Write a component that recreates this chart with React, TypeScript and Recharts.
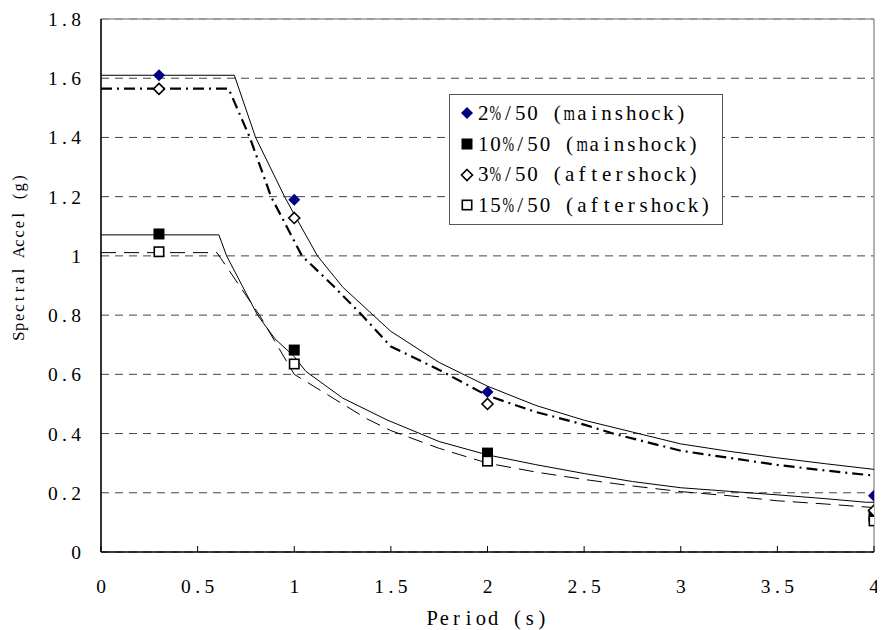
import React from 'react';
import {
  ComposedChart,
  Line,
  Scatter,
  XAxis,
  YAxis,
  CartesianGrid,
  ReferenceLine,
  Legend,
  Label,
} from 'recharts';

// ---- tick labels ----
const X_TICKS = [0, 0.5, 1, 1.5, 2, 2.5, 3, 3.5, 4];
const Y_TICKS = [0, 0.2, 0.4, 0.6, 0.8, 1, 1.2, 1.4, 1.6, 1.8];

// ---- design spectra (curves) ----
// 2%/50 mainshock (solid, upper)
const CURVE_2_T = [0, 0.69, 0.8, 0.95, 1.0, 1.12, 1.25, 1.5, 1.75, 2.0, 2.25, 2.5, 2.75, 3.0, 3.25, 3.5, 3.75, 4.0];
const CURVE_2_V = [1.61, 1.61, 1.4, 1.2, 1.14, 1.0, 0.895, 0.745, 0.64, 0.56, 0.495, 0.445, 0.405, 0.365, 0.34, 0.318, 0.298, 0.279];

// 3%/50 aftershock (dash-dot)
const CURVE_3_T = [0, 0.66, 0.77, 0.88, 1.0, 1.04, 1.2, 1.35, 1.5, 1.75, 2.0, 2.25, 2.5, 2.65, 3.0, 3.25, 3.5, 3.75, 4.0];
const CURVE_3_V = [1.565, 1.565, 1.4, 1.2, 1.05, 1.0, 0.9, 0.8, 0.694, 0.615, 0.528, 0.473, 0.43, 0.4, 0.342, 0.318, 0.294, 0.275, 0.258];

// 10%/50 mainshock (solid, lower)
const CURVE_10_T = [0, 0.61, 0.65, 0.81, 0.9, 1.0, 1.06, 1.25, 1.48, 1.75, 2.0, 2.25, 2.5, 2.75, 3.0, 3.25, 3.5, 3.75, 3.96, 4.0];
const CURVE_10_V = [1.071, 1.071, 1.0, 0.8, 0.72, 0.66, 0.61, 0.52, 0.446, 0.373, 0.328, 0.295, 0.265, 0.238, 0.217, 0.205, 0.193, 0.18, 0.168, 0.168];

// 15%/50 aftershock (long dash)
const CURVE_15_T = [0, 0.6, 0.82, 1.0, 1.1, 1.375, 1.5, 1.75, 2.0, 2.25, 2.5, 2.75, 3.0, 3.25, 3.5, 3.75, 4.0];
const CURVE_15_V = [1.011, 1.011, 0.8, 0.6, 0.56, 0.45, 0.41, 0.35, 0.3, 0.27, 0.245, 0.223, 0.204, 0.19, 0.173, 0.162, 0.15];

// ---- marker values ----
const MARK_T = [0.3, 1, 2, 4];
const MARK_2 = [1.61, 1.19, 0.54, 0.19];
const MARK_10 = [1.074, 0.682, 0.334, 0.122];
const MARK_3 = [1.564, 1.128, 0.5, 0.14];
const MARK_15 = [1.014, 0.635, 0.307, 0.105];

const SERIES_NAMES = ['2%/50 (mainshock)', '10%/50 (mainshock)', '3%/50 (aftershock)', '15%/50 (aftershock)'];
const MARKER_KINDS = ['diamondFilled', 'squareFilled', 'diamondOpen', 'squareOpen'];

const zip = (t: number[], v: number[]) => t.map((x, i) => ({ t: x, v: v[i] }));

const SERIF = '"Liberation Serif", "DejaVu Serif", serif';
const NAVY = '#000080';

// Fixed-cell serif text (each glyph centred in an equal-width cell)
function CellText(props: {
  x: number;
  y: number;
  text: string;
  cell: number;
  fontSize: number;
  anchor?: 'start' | 'middle' | 'end';
}) {
  const { x, y, text, cell, fontSize, anchor = 'start' } = props;
  const chars = Array.from(text);
  const total = chars.length * cell;
  const start = anchor === 'middle' ? x - total / 2 : anchor === 'end' ? x - total : x;
  return (
    <text fontFamily={SERIF} fontSize={fontSize} fill="#000" textAnchor="middle" dominantBaseline="central">
      {chars.map((c, i) =>
        c === ' ' ? null : (
          <tspan key={i} x={start + cell * (i + 0.5)} y={y} dominantBaseline="central">
            {c}
          </tspan>
        )
      )}
    </text>
  );
}

function markerSvg(kind: string, cx: number, cy: number) {
  switch (kind) {
    case 'diamondFilled':
      return <path d={`M${cx},${cy - 6}L${cx + 6},${cy}L${cx},${cy + 6}L${cx - 6},${cy}Z`} fill={NAVY} stroke="none" />;
    case 'squareFilled':
      return <rect x={cx - 5.5} y={cy - 5.5} width={11} height={11} fill="#000" stroke="none" />;
    case 'diamondOpen':
      return <path d={`M${cx},${cy - 5.5}L${cx + 5.5},${cy}L${cx},${cy + 5.5}L${cx - 5.5},${cy}Z`} fill="#fff" stroke="#000" strokeWidth={1.6} />;
    default:
      return <rect x={cx - 4.7} y={cy - 4.7} width={9.4} height={9.4} fill="#fff" stroke="#000" strokeWidth={1.6} />;
  }
}

const makeShape = (kind: string) => (props: any) => {
  const { cx, cy } = props;
  if (cx == null || cy == null) return <g />;
  return <g>{markerSvg(kind, cx, cy)}</g>;
};

const TICK_FONT = 19.5;

const XTick = (props: any) => {
  const { x, y, payload } = props;
  return (
    <g>
      <line x1={x} y1={y} x2={x} y2={y - 6} stroke="#000" strokeWidth={1} />
      <CellText x={x} y={y + 34} text={String(payload.value)} cell={11.7} fontSize={TICK_FONT} anchor="middle" />
    </g>
  );
};

const YTick = (props: any) => {
  const { x, y, payload } = props;
  return <CellText x={x - 19} y={y} text={String(payload.value)} cell={11.7} fontSize={TICK_FONT} anchor="end" />;
};

const LEGEND_CELL = 12.35;
const LEGEND_FONT = 21;
// glyphs wider than a cell are squeezed horizontally to fit (half-width style)
const SQUEEZE: Record<string, number> = { m: 0.7, '%': 0.66 };

const LegendBox = () => (
  <div
    style={{
      border: '1px solid #555',
      background: '#fff',
      padding: '3px 10px 3px 10px',
      fontFamily: SERIF,
      fontSize: LEGEND_FONT,
      color: '#000',
      lineHeight: '30.7px',
      whiteSpace: 'nowrap',
    }}
  >
    {SERIES_NAMES.map((name, i) => (
      <div key={name} style={{ display: 'flex', alignItems: 'center' }}>
        <svg width={14} height={14} style={{ marginRight: 3 }}>
          {markerSvg(MARKER_KINDS[i], 7, 7)}
        </svg>
        {Array.from(name).map((c, j) => (
          <span
            key={j}
            style={{ display: 'inline-block', width: LEGEND_CELL, textAlign: 'center', overflow: 'visible' }}
          >
            {c === ' ' ? (
              '\u00a0'
            ) : SQUEEZE[c] ? (
              <span
                style={{
                  display: 'inline-block',
                  width: LEGEND_CELL,
                  transform: `scaleX(${SQUEEZE[c]})`,
                  transformOrigin: 'center',
                  textAlign: 'center',
                  fontSize: LEGEND_FONT,
                  letterSpacing: 0,
                  whiteSpace: 'nowrap',
                  marginLeft: 0,
                }}
              >
                <span style={{ display: 'inline-block', marginLeft: -4, marginRight: -4 }}>{c}</span>
              </span>
            ) : (
              c
            )}
          </span>
        ))}
      </div>
    ))}
  </div>
);

export default function App() {
  return (
    <ComposedChart width={877} height={622} margin={{ top: 11, right: 11, bottom: 0, left: 0 }}>
      <CartesianGrid vertical={false} stroke="#444" strokeDasharray="8 6" />
      <XAxis
        type="number"
        dataKey="t"
        domain={[0, 4]}
        ticks={X_TICKS}
        allowDataOverflow
        height={78}
        tickSize={0}
        tickMargin={0}
        tick={<XTick />}
        axisLine={{ stroke: '#000', strokeWidth: 1.6 }}
        interval={0}
      >
        <Label content={() => <CellText x={479} y={610} text="Period (s)" cell={12.2} fontSize={20.5} anchor="middle" />} />
      </XAxis>
      <YAxis
        type="number"
        dataKey="v"
        domain={[0, 1.8]}
        ticks={Y_TICKS}
        allowDataOverflow
        width={93}
        tickSize={0}
        tickMargin={0}
        tick={<YTick />}
        axisLine={{ stroke: '#000', strokeWidth: 1.6 }}
        interval={0}
      >
        <Label
          content={() => (
            <g transform="rotate(-90 10 249)">
              <CellText x={10} y={249} text="Spectral Accel (g)" cell={9.3} fontSize={16.5} anchor="middle" />
            </g>
          )}
        />
      </YAxis>
      <ReferenceLine y={1.8} stroke="#999" strokeWidth={1.5} />
      <ReferenceLine x={4} stroke="#999" strokeWidth={1.5} />

      <Line data={zip(CURVE_2_T, CURVE_2_V)} dataKey="v" type="linear" stroke="#000" strokeWidth={1} dot={false} isAnimationActive={false} legendType="none" />
      <Line data={zip(CURVE_3_T, CURVE_3_V)} dataKey="v" type="linear" stroke="#000" strokeWidth={2.2} strokeDasharray="11 5 2 5" dot={false} isAnimationActive={false} legendType="none" />
      <Line data={zip(CURVE_10_T, CURVE_10_V)} dataKey="v" type="linear" stroke="#000" strokeWidth={1} dot={false} isAnimationActive={false} legendType="none" />
      <Line data={zip(CURVE_15_T, CURVE_15_V)} dataKey="v" type="linear" stroke="#000" strokeWidth={1} strokeDasharray="15 8" dot={false} isAnimationActive={false} legendType="none" />

      <Scatter name={SERIES_NAMES[0]} data={zip(MARK_T, MARK_2)} dataKey="v" shape={makeShape(MARKER_KINDS[0])} isAnimationActive={false} />
      <Scatter name={SERIES_NAMES[1]} data={zip(MARK_T, MARK_10)} dataKey="v" shape={makeShape(MARKER_KINDS[1])} isAnimationActive={false} />
      <Scatter name={SERIES_NAMES[2]} data={zip(MARK_T, MARK_3)} dataKey="v" shape={makeShape(MARKER_KINDS[2])} isAnimationActive={false} />
      <Scatter name={SERIES_NAMES[3]} data={zip(MARK_T, MARK_15)} dataKey="v" shape={makeShape(MARKER_KINDS[3])} isAnimationActive={false} />

      <Legend
        layout="vertical"
        align="center"
        verticalAlign="middle"
        content={<LegendBox />}
        wrapperStyle={{ position: 'absolute', left: 441, top: 86, width: 'auto', height: 'auto' }}
      />
    </ComposedChart>
  );
}
